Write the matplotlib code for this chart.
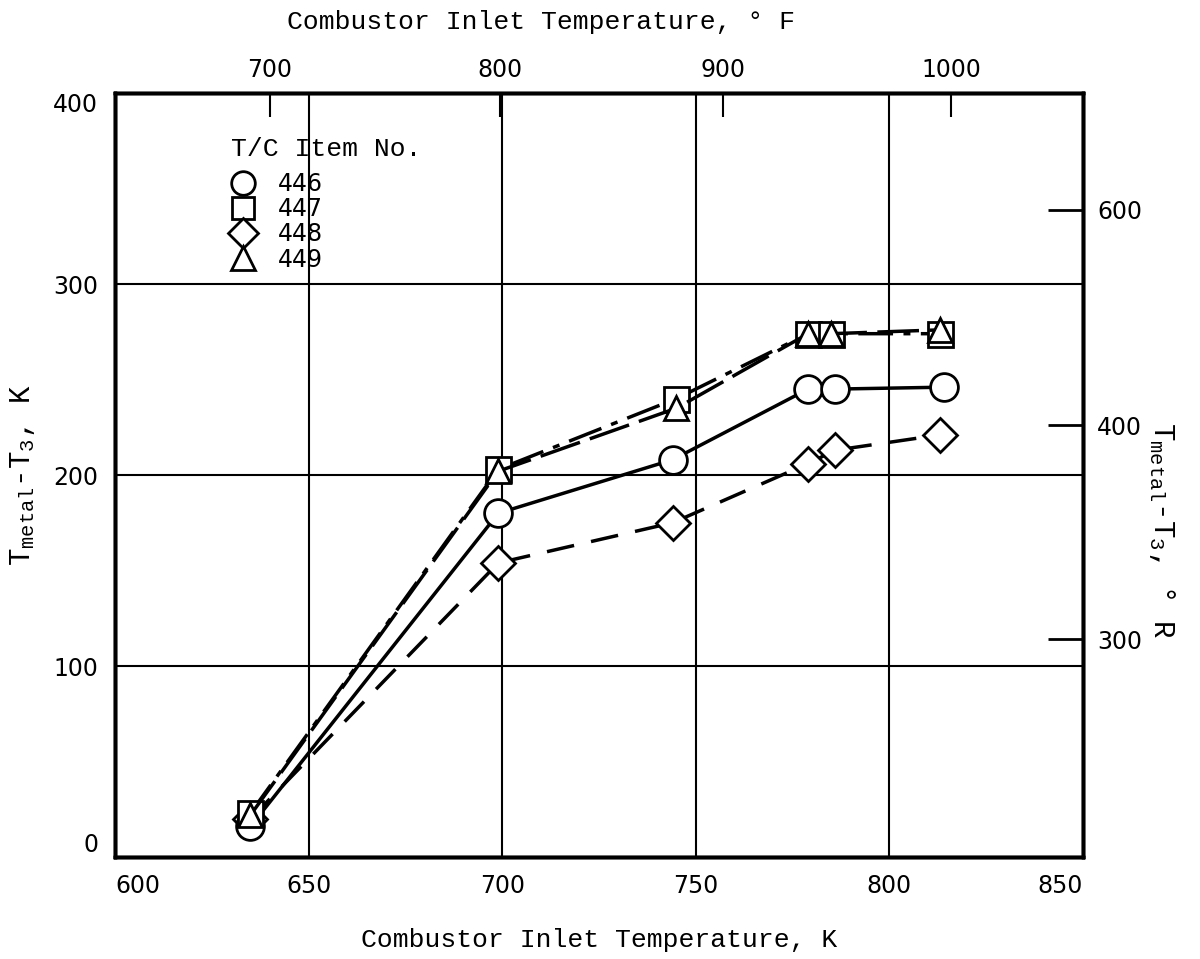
import matplotlib.pyplot as plt
from matplotlib.lines import Line2D

plt.rcParams['mathtext.fontset'] = 'custom'
plt.rcParams['mathtext.rm'] = 'Liberation Mono'
plt.rcParams['mathtext.it'] = 'Liberation Mono'

# data (x: combustor inlet temperature K, y: Tmetal-T3 K)
x_446 = [635, 699, 744, 779, 786, 814]
y_446 = [16, 180, 208, 245, 245, 246]

x_447 = [635, 699, 745, 779, 785, 813]
y_447 = [23, 203, 240, 274, 274, 274]

x_448 = [635, 699, 744, 779, 786, 813]
y_448 = [20, 154, 175, 206, 213, 221]

x_449 = [635, 699, 745, 779, 785, 813]
y_449 = [22, 202, 235, 274, 274, 276]

item_labels = ['446', '447', '448', '449']

# secondary scales as drawn on the original
top_tick_pos = [640, 699.5, 757, 816]
top_tick_labels = ['700', '800', '900', '1000']
right_tick_pos = [339, 226, 114]
right_tick_labels = ['600', '400', '300']

mono = 'Liberation Mono'
sans = 'DejaVu Sans'

fig = plt.figure(figsize=(12, 9.59), dpi=100)
ax = fig.add_axes([0.0958, 0.1063, 0.8067, 0.7967])

mk = dict(markerfacecolor='white', markeredgecolor='black', markeredgewidth=2,
          color='black', linewidth=2.5)

ax.plot(x_448, y_448, marker='D', markersize=17, linestyle=(0, (8, 5)), zorder=3, **mk)
ax.plot(x_446, y_446, marker='o', markersize=20, linestyle='-', zorder=4, **mk)
ax.plot(x_447, y_447, marker='s', markersize=18, linestyle=(0, (10, 3, 2, 3)), zorder=4.5, **mk)
ax.plot(x_449, y_449, marker='^', markersize=17, linestyle=(0, (12, 3)), zorder=5, **mk)

ax.set_xlim(600, 850)
ax.set_ylim(0, 400)
ax.set_xticks([600, 650, 700, 750, 800, 850])
ax.set_yticks([0, 100, 200, 300, 400])
ax.grid(True, color='black', linewidth=1.5)
ax.tick_params(axis='both', length=0, labelsize=17, pad=12)
for lbl in ax.get_xticklabels():
    lbl.set_fontfamily(sans)
yl = ax.get_yticklabels()
for lbl in yl:
    lbl.set_fontfamily(sans)
yl[0].set_verticalalignment('bottom')
yl[-1].set_verticalalignment('top')
xl = ax.get_xticklabels()
xl[0].set_horizontalalignment('left')
xl[-1].set_horizontalalignment('right')
for s in ax.spines.values():
    s.set_linewidth(2.5)

ax.set_xlabel('Combustor Inlet Temperature, K', fontfamily=mono, fontsize=19, labelpad=22)
ax.set_ylabel(r'T$_{\mathrm{metal}}$-T$_3$, K', fontfamily=mono, fontsize=21, labelpad=12)

# top Fahrenheit scale
ax_top = ax.twiny()
ax_top.set_xlim(ax.get_xlim())
ax_top.set_xticks(top_tick_pos)
ax_top.set_xticklabels(top_tick_labels, fontfamily=sans, fontsize=17)
ax_top.tick_params(axis='x', direction='in', length=17, width=1.5, pad=8)

# right Rankine scale
ax_r = ax.twinx()
ax_r.set_ylim(ax.get_ylim())
ax_r.set_yticks(right_tick_pos)
ax_r.set_yticklabels(right_tick_labels, fontfamily=sans, fontsize=17)
ax_r.tick_params(axis='y', direction='in', length=25, width=2, pad=10)
for a in (ax_top, ax_r):
    for s in a.spines.values():
        s.set_linewidth(2.5)

fig.text(541 / 1200, 1 - 22 / 959, 'Combustor Inlet Temperature, ° F', fontfamily=mono,
         fontsize=19, ha='center', va='center')
fig.text(1162 / 1200, 1 - 530 / 959, r'T$_{\mathrm{metal}}$-T$_3$, ° R', fontfamily=mono,
         fontsize=21, ha='center', va='center', rotation=-90)

handles = [Line2D([], [], marker=m, linestyle='none', markersize=sz, markerfacecolor='white',
                  markeredgecolor='black', markeredgewidth=2)
           for m, sz in zip(['o', 's', 'D', '^'], [17, 16, 15, 17])]
leg = ax_r.legend(handles, item_labels, title='T/C Item No.', loc='upper left',
                  bbox_to_anchor=(0.11, 0.955), frameon=False, handlelength=1.0,
                  handletextpad=1.0, labelspacing=0.05, borderaxespad=0,
                  prop={'family': sans, 'size': 17},
                  title_fontproperties={'family': mono, 'size': 19}, alignment='left')
leg._legend_box.sep = 8

fig.savefig('out.png', dpi=100)
